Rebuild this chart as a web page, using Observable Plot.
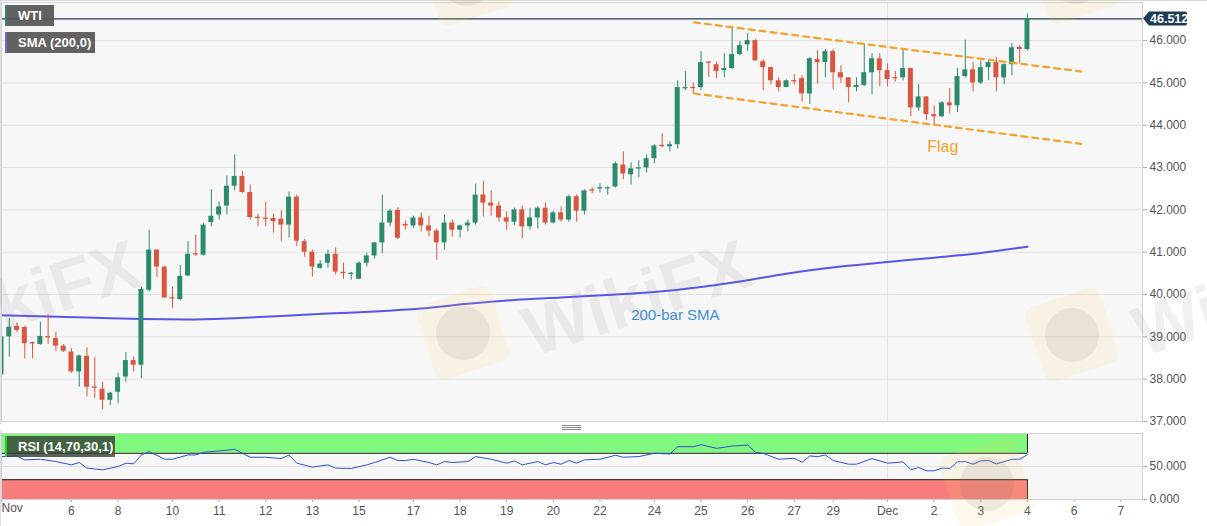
<!DOCTYPE html>
<html>
<head>
<meta charset="utf-8">
<script src="https://cdn.jsdelivr.net/npm/d3@7"></script>
<script src="https://cdn.jsdelivr.net/npm/@observablehq/plot@0.6"></script>
<style>
  html, body { margin: 0; background: #fff; overflow: hidden; font-family: "Liberation Sans", Arial, sans-serif; }
  #wrap { position: relative; width: 1207px; height: 526px; overflow: hidden; }
  #wrap svg { display: block; }
  .tag { position: absolute; height: 21px; line-height: 21px; color: #fff; font-weight: bold;
         font-size: 13px; padding-left: 11px; box-sizing: border-box; background: rgba(85,85,85,0.92); }
  .wm { position: absolute; pointer-events: none; }
  .wmtext { font: bold 70px "Liberation Sans", Arial, sans-serif; color: rgba(150,135,135,0.13);
            transform: rotate(-18deg); white-space: nowrap; }
  .wmlogo { width: 78px; height: 78px; border-radius: 10px; background: rgba(245,205,90,0.13);
            transform: rotate(-18deg); }
  .wmlogo div { width: 54px; height: 54px; border-radius: 50%; margin: 12px; background: rgba(120,110,110,0.11); }
</style>
</head>
<body>
<div id="wrap">
  <div id="main"></div>
  <div id="rsi"></div>
</div>
<script>
// WTI 4H candles, Nov 5 – Dec 4
const open = [38.1,39.0,39.25,39.22,38.86,38.82,39.0,38.96,38.78,38.64,
38.17,38.54,37.81,37.76,37.5,37.69,38.05,38.44,38.33,40.1,
41.05,40.65,39.92,39.88,40.44,40.96,40.93,41.7,41.88,42.09,
42.56,42.79,42.41,41.82,41.8,41.8,41.78,41.64,42.3,41.25,
41.0,40.62,40.74,40.95,40.52,40.48,40.36,40.74,40.91,41.22,
41.69,41.99,41.66,41.62,41.81,41.62,41.5,41.22,41.69,41.52,
41.62,41.69,42.35,42.16,42.09,41.81,41.71,42.0,41.6,41.81,
42.04,41.69,41.93,41.76,42.31,41.97,42.47,42.5,42.5,42.54,
43.06,42.83,42.97,42.99,43.21,43.52,43.49,43.54,44.86,44.89,
44.89,45.49,45.43,45.29,45.34,45.67,45.9,46.0,45.5,45.36,
45.05,44.89,45.05,45.1,44.74,45.55,45.48,45.74,45.24,45.12,
44.89,44.94,45.24,45.57,45.29,45.12,45.12,45.34,44.41,44.67,
44.25,44.2,44.53,44.46,45.15,45.31,45.0,45.36,45.48,45.12,
45.43,45.84,45.79];
const high = [39.1,39.43,39.33,39.25,38.88,39.35,39.52,39.11,38.82,38.72,
38.57,38.74,38.51,37.93,37.69,38.14,38.63,38.52,40.18,41.52,
41.05,40.66,40.18,40.69,41.25,41.4,41.68,42.48,42.19,42.8,
43.3,42.9,42.59,41.9,42.18,41.9,41.98,42.42,42.35,41.3,
41.05,40.8,41.05,41.1,40.74,40.52,40.77,40.98,41.22,42.35,
42.02,42.05,41.74,41.85,41.93,41.85,41.55,41.88,41.76,41.64,
41.76,42.61,42.68,42.45,42.19,41.95,42.04,42.09,42.04,42.07,
42.16,41.97,42.07,42.35,42.35,42.47,42.52,42.61,42.54,43.13,
43.37,43.11,43.16,43.3,43.54,43.8,43.61,45.05,45.27,45.0,
45.74,45.5,45.5,45.69,46.31,45.98,46.17,46.02,45.55,45.38,
45.12,45.07,45.2,45.17,45.6,45.76,45.79,45.79,45.41,45.12,
45.12,45.93,45.69,45.69,45.45,45.27,45.81,45.34,44.96,44.67,
44.46,44.56,44.87,45.34,46.01,45.48,45.52,45.52,45.6,45.45,
45.93,45.88,46.63];
const low = [38.0,38.52,39.1,38.48,38.48,38.8,38.82,38.66,38.63,38.14,
37.81,37.58,37.54,37.28,37.38,37.42,37.93,38.17,38.01,40.06,
40.4,39.9,39.67,39.85,40.42,40.9,40.91,41.6,41.76,41.88,
42.45,42.39,41.76,41.6,41.6,41.45,41.25,41.33,41.13,40.88,
40.41,40.6,40.62,40.46,40.36,40.34,40.36,40.65,40.84,40.96,
41.6,41.3,41.52,41.57,41.48,41.36,40.81,41.05,41.36,41.33,
41.48,41.64,41.83,41.86,41.71,41.52,41.62,41.31,41.52,41.55,
41.64,41.67,41.71,41.71,41.71,41.88,42.38,42.4,42.35,42.52,
42.71,42.59,42.76,42.87,43.09,43.47,43.37,43.44,44.82,44.73,
44.82,45.13,45.1,45.12,45.31,45.64,45.74,45.52,44.82,44.96,
44.79,44.89,44.96,44.55,44.49,44.97,45.12,44.84,44.99,44.53,
44.79,44.91,44.72,44.91,44.91,45.02,45.05,44.2,44.33,44.11,
44.01,44.18,44.27,44.3,45.12,44.79,44.96,45.05,44.79,44.96,
45.17,45.45,45.76];
const close = [39.0,39.23,39.15,38.84,38.83,39.01,38.98,38.78,38.66,38.17,
38.55,37.81,37.79,37.5,37.67,38.03,38.44,38.33,40.12,41.05,
40.65,39.92,39.9,40.43,40.95,40.94,41.64,41.85,42.07,42.56,
42.79,42.41,41.82,41.8,41.78,41.72,41.64,42.3,41.26,41.0,
40.65,40.72,40.95,40.53,40.5,40.5,40.74,40.91,41.22,41.69,
41.97,41.33,41.62,41.81,41.62,41.5,41.22,41.69,41.52,41.62,
41.69,42.35,42.16,42.09,41.81,41.71,42.0,41.6,41.81,42.04,
41.69,41.93,41.76,42.31,41.97,42.45,42.45,42.52,42.52,43.09,
42.85,42.97,42.99,43.21,43.51,43.5,43.54,44.89,44.89,44.87,
45.48,45.47,45.27,45.34,45.67,45.88,46.0,45.52,45.36,45.05,
44.89,45.05,45.03,44.74,45.57,45.48,45.74,45.24,45.12,44.89,
44.94,45.24,45.57,45.29,45.08,45.1,45.34,44.41,44.67,44.25,
44.2,44.53,44.46,45.15,45.31,45.0,45.36,45.48,45.12,45.43,
45.83,45.79,46.512];
const lastPrice = 46.512;

// 200-bar SMA (bar index, value)
const smaIdx = [0,6,12,18,24,30,36,42,48,54,60,66,72,78,84,90,96,102,108,114,120,126,132];
const smaVal = [39.51,39.48,39.45,39.42,39.41,39.44,39.49,39.55,39.6,39.67,39.78,39.87,39.93,39.99,40.06,40.18,40.34,40.52,40.66,40.77,40.87,40.98,41.13];

// RSI(14)
const rsiIdx = [0,2,3,5,7,9,10,11,13,15,16,17,18,19,21,22,24,25,26,28,30,32,34,36,37,38,40,42,43,45,
47,48,50,51,52,53,55,56,57,58,60,61,63,65,66,67,69,70,71,72,73,74,75,77,79,80,82,84,86,87,
89,90,92,94,96,97,98,100,102,103,104,105,106,107,109,110,112,114,116,117,118,119,120,121,122,123,124,125,126,127,
128,130,131,132];
const rsiVal = [65,66,60,61,57.5,52.5,56,47.5,45,50,55,54,67.5,72.5,61,61,67.5,67.5,71.5,73.5,76,64,64,62,67.5,55,49,52.5,47.5,47,
52.5,56,64,59,59,61,56,52.5,57.5,56,57.5,65,61,55,58.5,52.5,57.5,52.5,56,53.5,59,55,60,61,67,64,65,70,69,80,
80,83,77.5,81,82.5,71.5,70,61,62.5,56.5,66,65,67.5,59,53.5,53.5,62,55,57,45,48.5,43.5,43.5,47.5,47,57,57.5,53.5,58.5,59,
54,61,61,68];
const rsiLevels = [30, 70];

// flag channel
const flagIdx = [89.1, 138.9];
const flagUpper = [46.43, 45.27];
const flagLower = [44.75, 43.56];

// axis ticks
const dayIdx = [0,9,15,22,28,34,40,46,53,59,65,71,77,84,90,96,102,107,114,120,126,132,138,144];
const dayLabels = ["Nov","6","8","10","11","12","13","15","17","18","19","20","22","24","25","26","27","29","Dec","2","3","4","6","7"];
const priceTicks = [37,38,39,40,41,42,43,44,45,46];
const rsiTicks = [0, 50];

// annotations
const notes = [
  {text: "Flag", idx: 121.1, val: 43.48, color: "#f5a22d", size: 16},
  {text: "200-bar SMA", idx: 86.7, val: 39.51, color: "#3a8fdb", size: 15}
];

const GREEN = "#2c8a6d", RED = "#d9553f";
const W = 1207;
const xDomain = [0, 146.8];
const lastIdx = open.length - 1;
const decIdx = dayIdx[dayLabels.indexOf("Dec")];
const font = "'Liberation Sans', Arial, sans-serif";

const candles = open.map((o, i) => {
  const top = Math.max(o, close[i]), bot = Math.min(o, close[i]);
  const pad = top - bot < 0.03 ? (0.03 - (top - bot)) / 2 : 0;
  return {i, o, h: high[i], l: low[i], c: close[i], top: top + pad, bot: bot - pad,
          col: close[i] >= o ? GREEN : RED};
});
const sma = smaIdx.map((d, k) => ({i: d, v: smaVal[k]}));
const rsi = rsiIdx.map((d, k) => ({i: d, v: rsiVal[k]}));
const flagUp = flagIdx.map((d, k) => ({i: d, v: flagUpper[k]}));
const flagLo = flagIdx.map((d, k) => ({i: d, v: flagLower[k]}));

const main = Plot.plot({
  width: W, height: 424,
  marginLeft: 1, marginRight: 65, marginTop: 2, marginBottom: 3,
  x: {domain: xDomain, axis: null, label: null},
  y: {domain: [37, 46.9], axis: null, label: null},
  style: {background: "transparent", fontFamily: font, fontSize: "12px", color: "#555", overflow: "visible"},
  marks: [
    Plot.frame({fill: "#f7f7f7"}),
    Plot.ruleY(priceTicks, {stroke: "#e2e2e2"}),
    Plot.ruleX([decIdx], {stroke: "#e2e2e2"}),
    Plot.ruleY([lastPrice], {stroke: "#1f3b58", strokeWidth: 1.2}),
    Plot.line(sma, {x: "i", y: "v", stroke: "#5656e8", strokeWidth: 2, curve: "monotone-x"}),
    Plot.ruleX(candles, {x: "i", y1: "l", y2: "h", stroke: "col", strokeWidth: 1}),
    Plot.rect(candles, {x1: d => d.i - 0.32, x2: d => d.i + 0.32, y1: "bot", y2: "top", fill: "col"}),
    Plot.line(flagUp, {x: "i", y: "v", stroke: "#f5a22d", strokeWidth: 2.2, strokeDasharray: "6,5"}),
    Plot.line(flagLo, {x: "i", y: "v", stroke: "#f5a22d", strokeWidth: 2.2, strokeDasharray: "6,5"}),
    ...notes.map(n => Plot.text([n], {x: "idx", y: "val", text: "text", fill: n.color, fontSize: n.size})),
    Plot.axisY({anchor: "right", ticks: priceTicks, tickFormat: d3.format(".3f"), label: null,
                tickSize: 4, tickPadding: 3, fontSize: 12, stroke: "#aaa"}),
    Plot.frame({stroke: "#d2d2d2"})
  ]
});

const labelOf = new Map(dayIdx.map((d, k) => [d, dayLabels[k]]));
const rsiPlot = Plot.plot({
  width: W, height: 102,
  marginLeft: 1, marginRight: 65, marginTop: 9, marginBottom: 27,
  x: {domain: xDomain, axis: null, label: null},
  y: {domain: [0, 100], axis: null, label: null},
  style: {background: "transparent", fontFamily: font, fontSize: "12px", color: "#555", overflow: "visible"},
  marks: [
    Plot.frame({fill: "#f7f7f7"}),
    Plot.ruleY(rsiTicks, {stroke: "#e2e2e2"}),
    Plot.ruleX([decIdx], {stroke: "#e2e2e2"}),
    Plot.rect([{y1: rsiLevels[1], y2: 100, f: "#80f87f"}, {y1: 0, y2: rsiLevels[0], f: "#f87e7e"}],
      {x1: xDomain[0], x2: lastIdx, y1: "y1", y2: "y2", fill: "f"}),
    Plot.ruleY(rsiLevels, {x1: xDomain[0], x2: lastIdx, stroke: "#222", strokeWidth: 1}),
    Plot.ruleX([lastIdx], {y1: rsiLevels[1], y2: 100, stroke: "#222"}),
    Plot.ruleX([lastIdx], {y1: 0, y2: rsiLevels[0], stroke: "#222"}),
    Plot.ruleX([xDomain[0]], {y1: rsiLevels[1], y2: 100, stroke: "#222"}),
    Plot.ruleX([xDomain[0]], {y1: 0, y2: rsiLevels[0], stroke: "#222"}),
    Plot.line(rsi, {x: "i", y: "v", stroke: "#2f4fd6", strokeWidth: 1}),
    Plot.axisY({anchor: "right", ticks: rsiTicks, tickFormat: d3.format(".3f"), label: null,
                tickSize: 4, tickPadding: 3, fontSize: 12, stroke: "#aaa"}),
    Plot.axisX({ticks: dayIdx, tickFormat: d => d === 0 ? "" : labelOf.get(d), label: null,
                tickSize: 3, tickPadding: 4, fontSize: 12, stroke: "#aaa"}),
    Plot.text([dayLabels[0]], {x: dayIdx[0], frameAnchor: "bottom", dy: 12, textAnchor: "start",
                fontSize: 12, fill: "#555"}),
    Plot.frame({stroke: "#d2d2d2"})
  ]
});

document.getElementById("main").append(main);
document.getElementById("rsi").append(rsiPlot);

// last price tag on the right axis
{
  const svg = d3.select(main);
  const ty = main.scale("y").apply(lastPrice);
  const tx = main.scale("x").apply(xDomain[1]);
  svg.append("path")
    .attr("d", `M${tx + 1},${ty} L${tx + 7},${ty - 7} H${tx + 43} a2,2 0 0 1 2,2 V${ty + 5} a2,2 0 0 1 -2,2 H${tx + 7} Z`)
    .attr("fill", "#1f3b58");
  svg.append("text").attr("x", tx + 8).attr("y", ty).attr("dy", "0.35em")
    .attr("text-anchor", "start")
    .attr("fill", "#fff").attr("font-weight", "bold").attr("font-size", 12.5)
    .attr("font-family", font).text(d3.format(".3f")(lastPrice));
}

// overlays: legend tags, separator, borders, watermark
const wrap = document.getElementById("wrap");
function addDiv(css, cls, html) {
  const d = document.createElement("div");
  if (cls) d.className = cls;
  d.style.cssText = css;
  if (html) d.innerHTML = html;
  wrap.append(d);
  return d;
}
addDiv("position:absolute;left:0;top:0;width:1207px;height:1px;background:#d8d8ea;");
addDiv("position:absolute;left:0;top:0;width:1px;height:526px;background:#dcdcec;");
addDiv("position:absolute;left:0;top:424px;width:1142px;height:6px;background:#fff;");
addDiv("position:absolute;left:562px;top:425px;width:19px;height:1px;border-top:1px solid #888;border-bottom:1px solid #888;");
addDiv("position:absolute;left:562px;top:429px;width:19px;height:0;border-top:1px solid #888;");
addDiv("left:5px;top:5px;width:49px;border-left:2px solid " + GREEN + ";", "tag", "WTI");
addDiv("left:5px;top:32px;width:90px;border-left:2px solid #6a6ae0;", "tag", "SMA (200,0)");
addDiv("left:5px;top:436px;width:110px;height:21px;border-left:2px solid #2ecc2e;background:rgba(50,60,50,0.8);", "tag", "RSI (14,70,30,1)");

[[-90, 258], [520, 258], [1130, 258]].forEach(([x, y]) =>
  addDiv(`left:${x}px;top:${y}px;`, "wm wmtext", "WikiFX"));
[[424, 294], [1033, 296], [428, -60], [1037, -62], [948, 445]].forEach(([x, y]) =>
  addDiv(`left:${x}px;top:${y}px;`, "wm wmlogo", "<div></div>"));
</script>
</body>
</html>
